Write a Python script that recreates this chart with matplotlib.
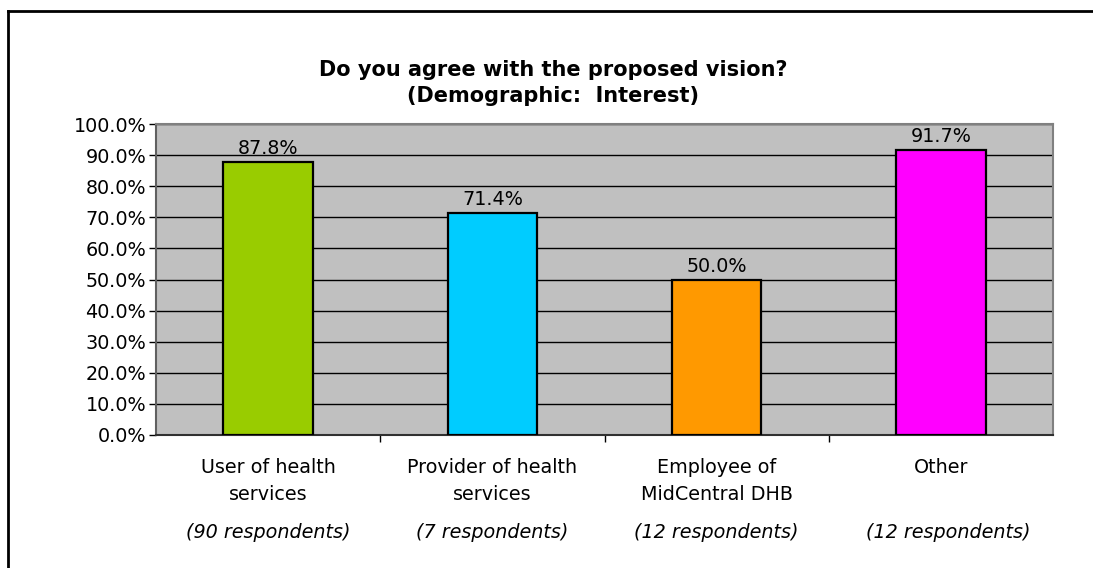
import matplotlib
matplotlib.use("Agg")
import matplotlib.pyplot as plt
from matplotlib.lines import Line2D

categories = ["User of health\nservices", "Provider of health\nservices",
              "Employee of\nMidCentral DHB", "Other"]
respondents = ["(90 respondents)", "(7 respondents)", "(12 respondents)", "(12 respondents)"]
values = [87.8, 71.4, 50.0, 91.7]
colors = ["#99CC00", "#00CCFF", "#FF9900", "#FF00FF"]
yticks = [0, 10, 20, 30, 40, 50, 60, 70, 80, 90, 100]

plt.rcParams['font.family'] = ['DejaVu Sans']

W, H = 1093, 568
fig = plt.figure(figsize=(W / 100, H / 100), dpi=100)
fig.patch.set_facecolor("white")

L, R, T, B = 156, 1053, 124, 435
ax = fig.add_axes([L / W, 1 - B / H, (R - L) / W, (B - T) / H])
ax.set_facecolor("#C0C0C0")

FS = 13.8
x = list(range(len(values)))
ax.set_axisbelow(True)
ax.yaxis.grid(True, color="black", linewidth=1.0)
ax.bar(x, values, width=0.4, color=colors, edgecolor="black", linewidth=1.6, zorder=3)
for xi, v in zip(x, values):
    ax.annotate(f"{v:.1f}%", xy=(xi, v), xytext=(0, 5.5), textcoords="offset points",
                ha="center", va="baseline", fontsize=FS, zorder=4)

ax.set_xlim(-0.5, len(values) - 0.5)
ax.set_ylim(0, 100)
ax.set_yticks(yticks)
ax.set_yticklabels([f"{t:.1f}%" for t in yticks], fontsize=FS)
ax.set_xticks([i + 0.5 for i in range(len(values) - 1)])
ax.set_xticklabels([])
ax.tick_params(axis="y", direction="out", length=5, width=1, pad=2, colors="black")
ax.tick_params(axis="x", direction="out", length=5, width=1, colors="black")

for s in ["top", "right"]:
    ax.spines[s].set_color("#808080")
    ax.spines[s].set_linewidth(1.5)
ax.spines["left"].set_color("#606060")
ax.spines["left"].set_linewidth(1.5)
ax.spines["bottom"].set_color("#303030")
ax.spines["bottom"].set_linewidth(1.5)

trans = ax.get_xaxis_transform()
for xi, (c, r) in enumerate(zip(categories, respondents)):
    ax.annotate(c, xy=(xi, 0), xycoords=trans, xytext=(0, -16.5), textcoords="offset points",
                ha="center", va="top", fontsize=FS, linespacing=1.55, annotation_clip=False)
    dx = 5 if xi == len(values) - 1 else 0
    ax.annotate(r, xy=(xi, 0), xycoords=trans, xytext=(dx, -70), textcoords="offset points",
                ha="center", va="center", fontsize=FS, style="italic", annotation_clip=False)

fig.text(553 / W, 1 - 83 / H, "Do you agree with the proposed vision?\n(Demographic:  Interest)",
         ha="center", va="center", fontsize=15, fontweight="bold", linespacing=1.35)

# outer frame (left and top edges)
fig.add_artist(Line2D([8 / W, 8 / W], [0, 1 - 11 / H], transform=fig.transFigure,
                      color="black", linewidth=2))
fig.add_artist(Line2D([8 / W, 1], [1 - 11 / H, 1 - 11 / H], transform=fig.transFigure,
                      color="black", linewidth=2))

fig.savefig("out.png", dpi=100)
